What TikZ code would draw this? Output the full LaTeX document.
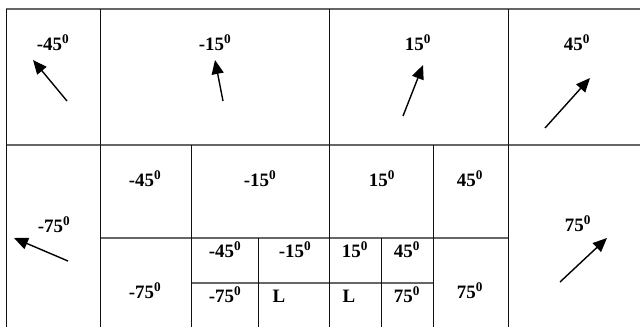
\documentclass[tikz,border=0pt]{standalone}
\usepackage{fontspec}
\setmainfont{Liberation Serif}
\usetikzlibrary{arrows.meta}
\definecolor{ruleGray}{HTML}{666666}
\definecolor{ruleDark}{HTML}{111111}
\tikzset{
  hrule/.style={draw=ruleGray, line width=1.6bp},
  vrule/.style={draw=ruleDark, line width=1bp},
  anglelbl/.style={font=\fontsize{19}{21}\selectfont\bfseries, inner sep=0pt, anchor=base},
  dirarr/.style={-{Triangle[length=14bp, width=12bp]}, line width=1.4bp},
}
\newcommand{\angdeg}[1]{#1\textsuperscript{0}}

\begin{document}
\begin{tikzpicture}[x=1bp, y=-1bp]
  \useasboundingbox (0,0) rectangle (640,327);
  % grid
  \draw[hrule] (6,9) -- (640,9);
  \draw[hrule] (6,145) -- (640,145);
  \draw[hrule] (100,237.7) -- (508,237.7);
  \draw[hrule] (191.7,283) -- (433,283);
  \foreach \xx in {6,100,329,508} \draw[vrule] (\xx,9) -- (\xx,327);
  \foreach \xx in {191.7,433} \draw[vrule] (\xx,145) -- (\xx,327);
  \foreach \xx in {258,381.7} \draw[vrule] (\xx,237.7) -- (\xx,327);
  % top row
  \node[anglelbl] (tA) at (53,50) {\angdeg{-45}};
  \node[anglelbl] (tB) at (215,50) {\angdeg{-15}};
  \node[anglelbl] (tC) at (418,50) {\angdeg{15}};
  \node[anglelbl] (tD) at (577,50) {\angdeg{45}};
  % side cells
  \node[anglelbl] (sL) at (54,232) {\angdeg{-75}};
  \node[anglelbl] (sR) at (578,231) {\angdeg{75}};
  % second level
  \node[anglelbl] (mA) at (145,186) {\angdeg{-45}};
  \node[anglelbl] (mB) at (260,186) {\angdeg{-15}};
  \node[anglelbl] (mC) at (382,186) {\angdeg{15}};
  \node[anglelbl] (mD) at (470,186) {\angdeg{45}};
  \node[anglelbl] (mE) at (145,298) {\angdeg{-75}};
  \node[anglelbl] (mF) at (470,298) {\angdeg{75}};
  % third level
  \node[anglelbl] (nA) at (225,257) {\angdeg{-45}};
  \node[anglelbl] (nB) at (295,257) {\angdeg{-15}};
  \node[anglelbl] (nC) at (355,257) {\angdeg{15}};
  \node[anglelbl] (nD) at (407,257) {\angdeg{45}};
  \node[anglelbl] (nE) at (225,302) {\angdeg{-75}};
  \node[anglelbl] (nF) at (279,302) {L};
  \node[anglelbl] (nG) at (349,302) {L};
  \node[anglelbl] (nH) at (407,302) {\angdeg{75}};
  % direction arrows
  \coordinate (aA1) at (67,101);  \coordinate (aA2) at (33,60);
  \coordinate (aB1) at (223,101); \coordinate (aB2) at (215,60);
  \coordinate (aC1) at (403,116); \coordinate (aC2) at (423,65);
  \coordinate (aD1) at (545,128); \coordinate (aD2) at (590,78);
  \coordinate (aL1) at (68,261);  \coordinate (aL2) at (14,238);
  \coordinate (aR1) at (560,282); \coordinate (aR2) at (607,238);
  \draw[dirarr] (aA1) -- (aA2);
  \draw[dirarr] (aB1) -- (aB2);
  \draw[dirarr] (aC1) -- (aC2);
  \draw[dirarr] (aD1) -- (aD2);
  \draw[dirarr] (aL1) -- (aL2);
  \draw[dirarr] (aR1) -- (aR2);
\end{tikzpicture}
\end{document}
